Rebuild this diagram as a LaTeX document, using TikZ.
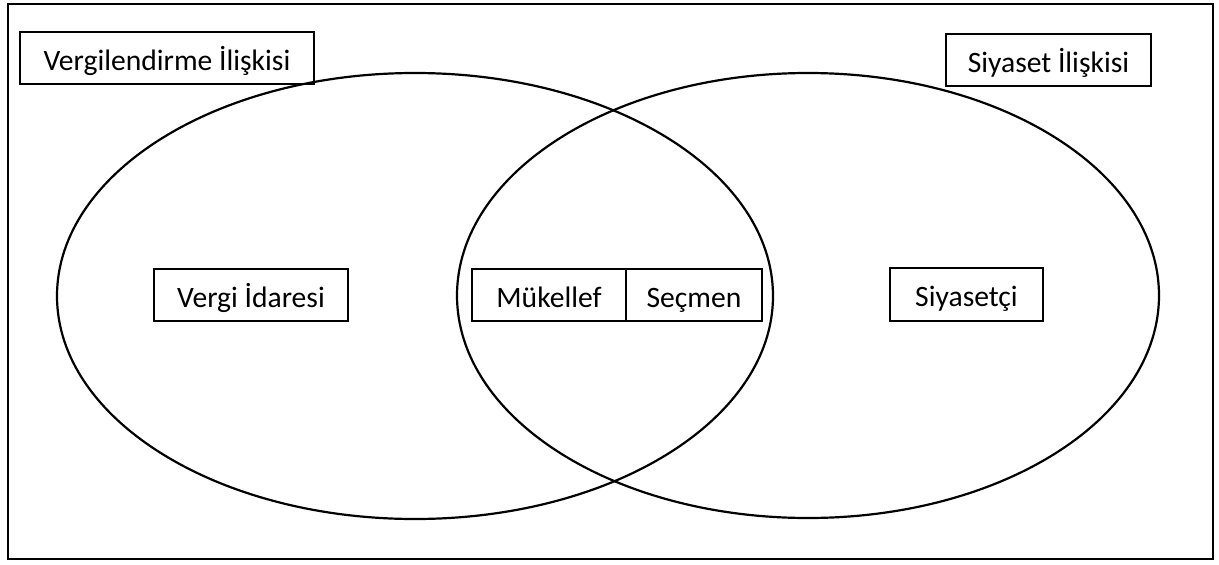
\documentclass[tikz,border=0pt]{standalone}
\usepackage{fontspec}
\setmainfont{Carlito}
\begin{document}
\begin{tikzpicture}[x=1pt,y=-1pt,
  box/.style={draw, line width=1.8pt, inner sep=0pt, text height=25pt, text depth=1pt,
    font=\fontsize{29.6}{34}\selectfont},
  venn/.style={line width=2.2pt}]
\useasboundingbox (0,0) rectangle (1219,565);
\draw[line width=2pt] (8,4) rectangle (1213,559);
\draw[venn] (415,296) ellipse [x radius=358pt, y radius=223pt];
\draw[venn] (808,295.5) ellipse [x radius=351pt, y radius=222.5pt];
\node[box, minimum width=294pt, minimum height=52pt] (vi) at (167,58) {Vergilendirme İlişkisi};
\node[box, minimum width=205pt, minimum height=52pt] (si) at (1048.5,60) {Siyaset İlişkisi};
\node[box, minimum width=194pt, minimum height=52pt] (vid) at (251,295) {Vergi İdaresi};
\node[box, minimum width=154pt, minimum height=52pt] (mk) at (549,295) {Mükellef};
\node[box, minimum width=136pt, minimum height=52pt] (sc) at (694,295) {Seçmen};
\node[box, minimum width=153pt, minimum height=53pt] (sy) at (966.5,294.5) {Siyasetçi};
\end{tikzpicture}
\end{document}
